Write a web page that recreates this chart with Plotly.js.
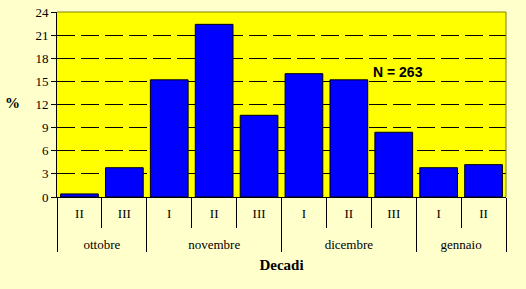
<!DOCTYPE html>
<html><head><meta charset="utf-8">
<script src="https://cdn.plot.ly/plotly-3.0.1.min.js"></script>
<style>html,body{margin:0;padding:0;background:#FFFFCC;}#chart{width:526px;height:289px;}</style>
</head><body><div id="chart"></div>
<script>
const months = ["ottobre","ottobre","novembre","novembre","novembre","dicembre","dicembre","dicembre","gennaio","gennaio"];
const decades = ["II","III","I","II","III","I","II","III","I","II"];
const percent = [0.4, 3.8, 15.2, 22.4, 10.6, 16.0, 15.2, 8.4, 3.8, 4.2];
const yTicks = [0,3,6,9,12,15,18,21,24];
const nLabel = "N = 263";

// make every inner label a distinct string (same look) so Plotly keeps data order
const monthOrder = [...new Set(months)];
const innerLabels = decades.map((d, i) => {
  const k = monthOrder.indexOf(months[i]);
  return "<span>".repeat(k) + d + "</span>".repeat(k) + "<br><span style='font-size:17px'> </span>";
});

const trace = {
  type: "bar",
  x: [months, innerLabels],
  y: percent,
  marker: {color: "#0000FF", line: {color: "#000000", width: 1}},
  hoverinfo: "none"
};
const layout = {
  width: 526, height: 289,
  margin: {l: 57, r: 20, t: 12, b: 92},
  paper_bgcolor: "#FFFFCC",
  plot_bgcolor: "#FFFF00",
  bargap: 0.16,
  showlegend: false,
  font: {family: "Liberation Serif, serif", size: 13, color: "#000"},
  xaxis: {
    type: "multicategory",
    showline: true, linecolor: "#000", linewidth: 1,
    ticks: "outside", ticklen: 30, tickcolor: "#000", tickson: "boundaries",
    ticklabelstandoff: 4,
    showdividers: true, dividercolor: "#000", dividerwidth: 1,
    tickfont: {family: "Liberation Serif, serif", size: 13},
    title: {text: "<b>Decadi</b>", font: {family: "Liberation Serif, serif", size: 15}, standoff: 8},
    showgrid: false, zeroline: false
  },
  yaxis: {
    range: [0, 24], tickvals: yTicks, ticktext: yTicks.map(String),
    showline: true, linecolor: "#000", linewidth: 1,
    ticks: "outside", ticklen: 5, tickcolor: "#000",
    showgrid: true, gridcolor: "#000", gridwidth: 1, griddash: "18px,6px",
    zeroline: false,
    tickfont: {family: "Liberation Serif, serif", size: 13}
  },
  shapes: [
    {type: "line", xref: "paper", yref: "paper", x0: 0, x1: 1, y0: 1, y1: 1, line: {color: "#808000", width: 1}, layer: "above"},
    {type: "line", xref: "paper", yref: "paper", x0: 1, x1: 1, y0: 0, y1: 1, line: {color: "#808000", width: 1}, layer: "above"}
  ],
  annotations: [
    {text: "<b>%</b>", xref: "paper", yref: "paper", x: -0.1, y: 0.51, xanchor: "center", yanchor: "middle", showarrow: false, font: {family: "Liberation Serif, serif", size: 15}},
    {text: "<b>" + nLabel + "</b>", xref: "paper", yref: "y", x: 0.70, y: 16.25, xanchor: "left", yanchor: "middle", showarrow: false, font: {family: "Liberation Sans, Arial, sans-serif", size: 14}}
  ]
};
Plotly.newPlot("chart", [trace], layout, {displayModeBar: false, staticPlot: true});
</script></body></html>
